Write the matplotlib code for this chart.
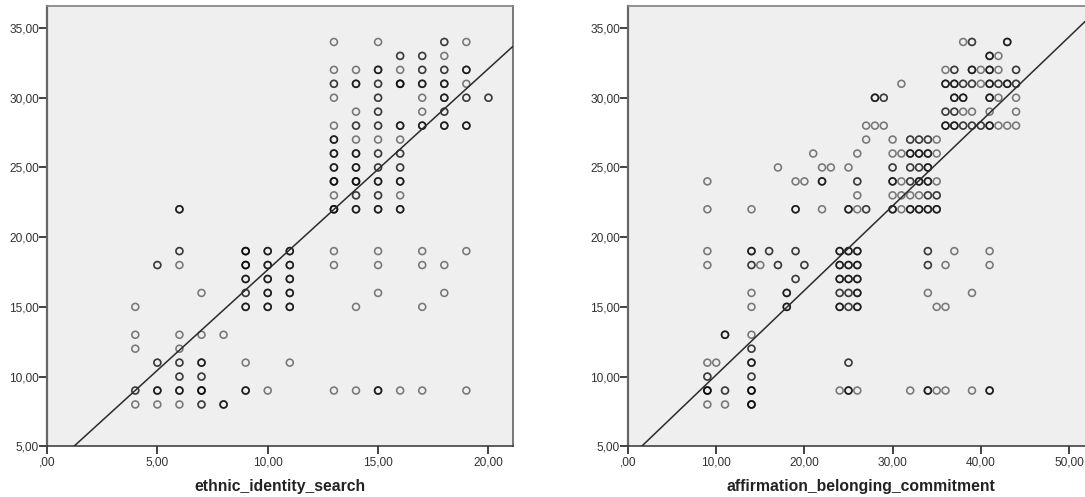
import numpy as np
import matplotlib
matplotlib.use("Agg")
import matplotlib.pyplot as plt

plt.rcParams["font.family"] = ["Liberation Sans", "DejaVu Sans"]

W, H = 1085, 497

# one row per y value, n = how many cases overlap at that point
left_rows = [34, 33, 32, 31, 30, 29, 28, 27, 26, 25, 24, 23, 22, 19, 18, 17, 16, 15, 13, 12, 11, 10, 9, 8]
left_x = [
    [13, 15, 18, 19],
    [16, 17, 18],
    [13, 14, 15, 16, 17, 18, 19],
    [13, 14, 15, 16, 17, 18, 19],
    [13, 15, 17, 18, 19, 20],
    [14, 15, 17, 18],
    [13, 14, 15, 16, 17, 18, 19],
    [13, 14, 15, 16],
    [13, 14, 15, 16],
    [13, 14, 15, 16],
    [13, 14, 15, 16],
    [13, 14, 15, 16],
    [6, 13, 14, 15, 16],
    [6, 9, 10, 11, 13, 15, 17, 19],
    [5, 6, 9, 10, 11, 13, 15, 17, 18],
    [9, 10, 11],
    [7, 9, 10, 11, 15, 18],
    [4, 9, 10, 11, 14, 17],
    [4, 6, 7, 8],
    [4, 6],
    [5, 6, 7, 9, 11],
    [6, 7],
    [4, 5, 6, 7, 9, 10, 13, 14, 15, 16, 17, 19],
    [4, 5, 6, 7, 8],
]
left_n = [
    [1, 1, 2, 1],
    [2, 2, 1],
    [1, 1, 3, 1, 2, 2, 3],
    [2, 3, 2, 4, 3, 3, 1],
    [1, 2, 1, 3, 2, 2],
    [1, 2, 1, 2],
    [1, 2, 2, 3, 3, 3, 3],
    [3, 1, 1, 1],
    [3, 3, 2, 2],
    [3, 3, 2, 2],
    [4, 4, 3, 3],
    [1, 2, 2, 1],
    [3, 4, 3, 3, 3],
    [2, 4, 3, 3, 1, 1, 1, 1],
    [2, 1, 4, 3, 3, 1, 1, 1, 1],
    [3, 3, 3],
    [1, 2, 3, 3, 1, 1],
    [1, 3, 3, 3, 1, 1],
    [1, 1, 1, 1],
    [1, 1],
    [2, 2, 3, 1, 1],
    [2, 2],
    [2, 3, 3, 4, 3, 1, 1, 1, 3, 1, 1, 1],
    [1, 1, 1, 2, 3],
]
left_line_x = [1.22, 21.09]
left_line_y = [5.0, 33.66]
left_xticks = [0, 5, 10, 15, 20]
left_xlabels = [",00", "5,00", "10,00", "15,00", "20,00"]

right_rows = [34, 33, 32, 31, 30, 29, 28, 27, 26, 25, 24, 23, 22, 19, 18, 17, 16, 15, 13, 12, 11, 10, 9, 8]
right_x = [
    [38, 39, 43],
    [41, 42],
    [36, 37, 39, 40, 41, 42, 44],
    [31, 36, 37, 38, 39, 40, 41, 42, 43, 44],
    [28, 29, 37, 38, 41, 42, 44],
    [36, 37, 38, 39, 41, 44],
    [27, 28, 29, 36, 37, 38, 39, 40, 41, 42, 43, 44],
    [27, 30, 32, 33, 34, 35],
    [21, 26, 30, 31, 32, 33, 34, 35],
    [17, 22, 23, 25, 30, 32, 33, 34],
    [9, 19, 20, 22, 26, 30, 31, 32, 33, 34, 35],
    [26, 30, 31, 32, 33, 34, 35],
    [9, 14, 19, 22, 25, 26, 27, 30, 31, 32, 33, 34, 35],
    [9, 14, 16, 19, 24, 25, 26, 34, 37, 41],
    [9, 14, 15, 17, 20, 24, 25, 26, 34, 36, 41],
    [19, 24, 25, 26],
    [14, 18, 24, 25, 26, 34, 39],
    [14, 18, 24, 25, 26, 35, 36],
    [11, 14],
    [14],
    [9, 10, 14, 25],
    [9, 14],
    [9, 11, 14, 24, 25, 26, 32, 34, 35, 36, 39, 41],
    [9, 11, 14],
]
right_n = [
    [1, 2, 3],
    [3, 1],
    [1, 2, 3, 1, 3, 1, 2],
    [1, 3, 3, 2, 2, 1, 3, 2, 3, 2],
    [3, 2, 3, 3, 3, 1, 1],
    [2, 2, 1, 1, 1, 1],
    [1, 1, 1, 3, 3, 2, 2, 2, 3, 1, 1, 1],
    [1, 1, 2, 2, 2, 1],
    [1, 1, 1, 1, 3, 3, 3, 1],
    [1, 1, 1, 1, 2, 2, 2, 3],
    [1, 1, 1, 3, 2, 3, 1, 2, 3, 3, 1],
    [1, 1, 1, 1, 1, 2, 2],
    [1, 1, 3, 1, 3, 1, 2, 3, 1, 3, 3, 3, 3],
    [1, 3, 2, 2, 3, 3, 3, 2, 1, 1],
    [1, 2, 1, 2, 2, 3, 3, 3, 2, 1, 1],
    [2, 3, 3, 3],
    [1, 3, 2, 2, 3, 1, 1],
    [1, 3, 3, 2, 3, 1, 1],
    [3, 1],
    [2],
    [1, 1, 3, 2],
    [2, 2],
    [4, 2, 4, 1, 3, 1, 1, 3, 1, 1, 1, 3],
    [1, 1, 4],
]
right_line_x = [1.55, 52.9]
right_line_y = [5.0, 36.12]
right_xticks = [0, 10, 20, 30, 40, 50]
right_xlabels = [",00", "10,00", "20,00", "30,00", "40,00", "50,00"]

yticks = [5, 10, 15, 20, 25, 30, 35]
ylabels = ["5,00", "10,00", "15,00", "20,00", "25,00", "30,00", "35,00"]


def draw_panel(fig, box, xlim, rows, xs, ns, line_x, line_y, xticks, xlabels, xlabel, label_x):
    x0, x1, y_top, y_bot = box
    ax = fig.add_axes([x0 / W, 1 - y_bot / H, (x1 - x0) / W, (y_bot - y_top) / H])
    ax.set_facecolor("#efefef")
    ax.set_xlim(*xlim)
    ax.set_ylim(5, 36.58)

    px, py = [], []
    for y, row_x, row_n in zip(rows, xs, ns):
        for x, n in zip(row_x, row_n):
            px += [x] * n
            py += [y] * n
    ax.scatter(px, py, s=25, facecolors="none", edgecolors="black",
               linewidths=1.15, alpha=0.5, zorder=2, clip_on=True)
    ax.plot(line_x, line_y, color="#2b2b2b", lw=1.1, zorder=3)

    ax.set_xticks(xticks)
    ax.set_xticklabels(xlabels)
    ax.set_yticks(yticks)
    ax.set_yticklabels(ylabels)
    ax.tick_params(axis="both", length=5.5, width=1.2, color="#222222",
                   labelcolor="#333333", labelsize=8.6)
    ax.tick_params(axis="x", pad=2)
    ax.tick_params(axis="y", pad=0.2)

    ax.spines["left"].set_color("#666666")
    ax.spines["left"].set_linewidth(1.6)
    ax.spines["top"].set_color("#888888")
    ax.spines["top"].set_linewidth(1.3)
    ax.spines["right"].set_color("#777777")
    ax.spines["right"].set_linewidth(1.4)
    ax.spines["bottom"].set_color("#333333")
    ax.spines["bottom"].set_linewidth(1.1)

    fig.text(label_x / W, 1 - 487 / H, xlabel, ha="center", va="center",
             fontsize=11.3, fontweight="bold", color="#222222")
    return ax


fig = plt.figure(figsize=(W / 100, H / 100), dpi=100, facecolor="white")

draw_panel(fig, (47, 512.5, 6, 446.3), (0, 21.09), left_rows, left_x, left_n,
           left_line_x, left_line_y, left_xticks, left_xlabels,
           "ethnic_identity_search", 280)
draw_panel(fig, (628, 1095, 6, 446.3), (0, 52.95), right_rows, right_x, right_n,
           right_line_x, right_line_y, right_xticks, right_xlabels,
           "affirmation_belonging_commitment", 860.5)

fig.savefig("out.png", dpi=100)
plt.close(fig)
